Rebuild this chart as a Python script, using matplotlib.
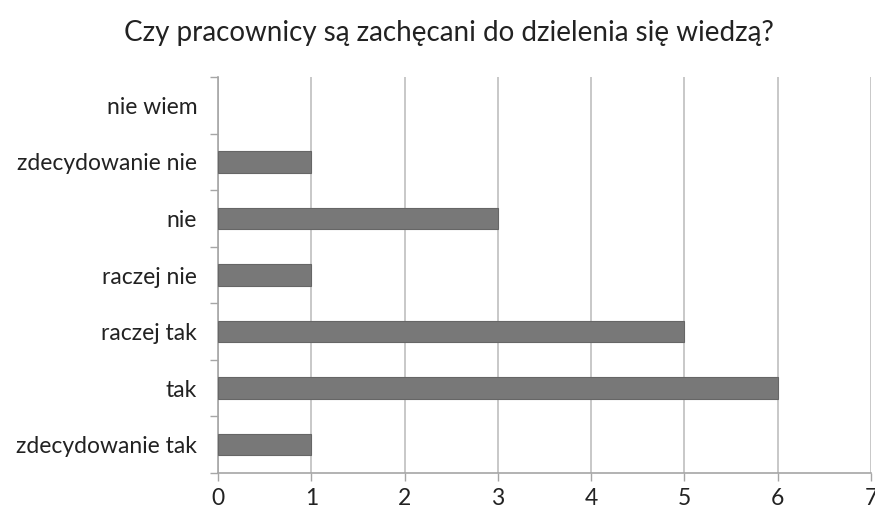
import numpy as np
import matplotlib.pyplot as plt

categories = ['zdecydowanie tak', 'tak', 'raczej tak', 'raczej nie', 'nie',
              'zdecydowanie nie', 'nie wiem']
values = [1, 6, 5, 1, 3, 1, 0]
xticks = [0, 1, 2, 3, 4, 5, 6, 7]

plt.rcParams['font.family'] = ['Lato', 'DejaVu Sans']

fig = plt.figure(figsize=(8.75, 5.14), dpi=100)
ax = fig.add_axes([218 / 875, 1 - 473 / 514, 653 / 875, 396 / 514])

y = np.arange(len(categories))
# brak obramowania dla zerowych słupków
edge_w = [0.8 if v else 0 for v in values]
ax.barh(y, values, height=0.38, color='#787878', edgecolor='#666666',
        linewidth=edge_w, zorder=3)

ax.set_xlim(0, 7)
ax.set_ylim(-0.5, len(categories) - 0.5)
ax.set_xticks(xticks)
ax.set_xticklabels([str(v) for v in xticks], fontsize=16.5, color='#222222')
ax.set_yticks(y)
ax.set_yticklabels(categories, fontsize=16.5, color='#222222')
ax.set_yticks(np.arange(-0.5, len(categories), 1), minor=True)

ax.tick_params(axis='y', which='major', length=0, pad=15)
ax.tick_params(axis='y', which='minor', length=6, color='#a6a6a6', width=1)
ax.tick_params(axis='x', length=6, color='#a6a6a6', width=1, pad=5)

ax.grid(axis='x', color='#bfbfbf', linewidth=1.2, zorder=0)
for side in ['top', 'right']:
    ax.spines[side].set_visible(False)
ax.spines['left'].set_color('#a6a6a6')
ax.spines['bottom'].set_color('#a6a6a6')
ax.spines['left'].set_linewidth(1.2)
ax.spines['bottom'].set_linewidth(1.2)

fig.text(449 / 875, 1 - 33 / 514, 'Czy pracownicy są zachęcani do dzielenia się wiedzą?',
         ha='center', va='center', fontsize=20, color='#222222')

fig.savefig('out.png', dpi=100)
